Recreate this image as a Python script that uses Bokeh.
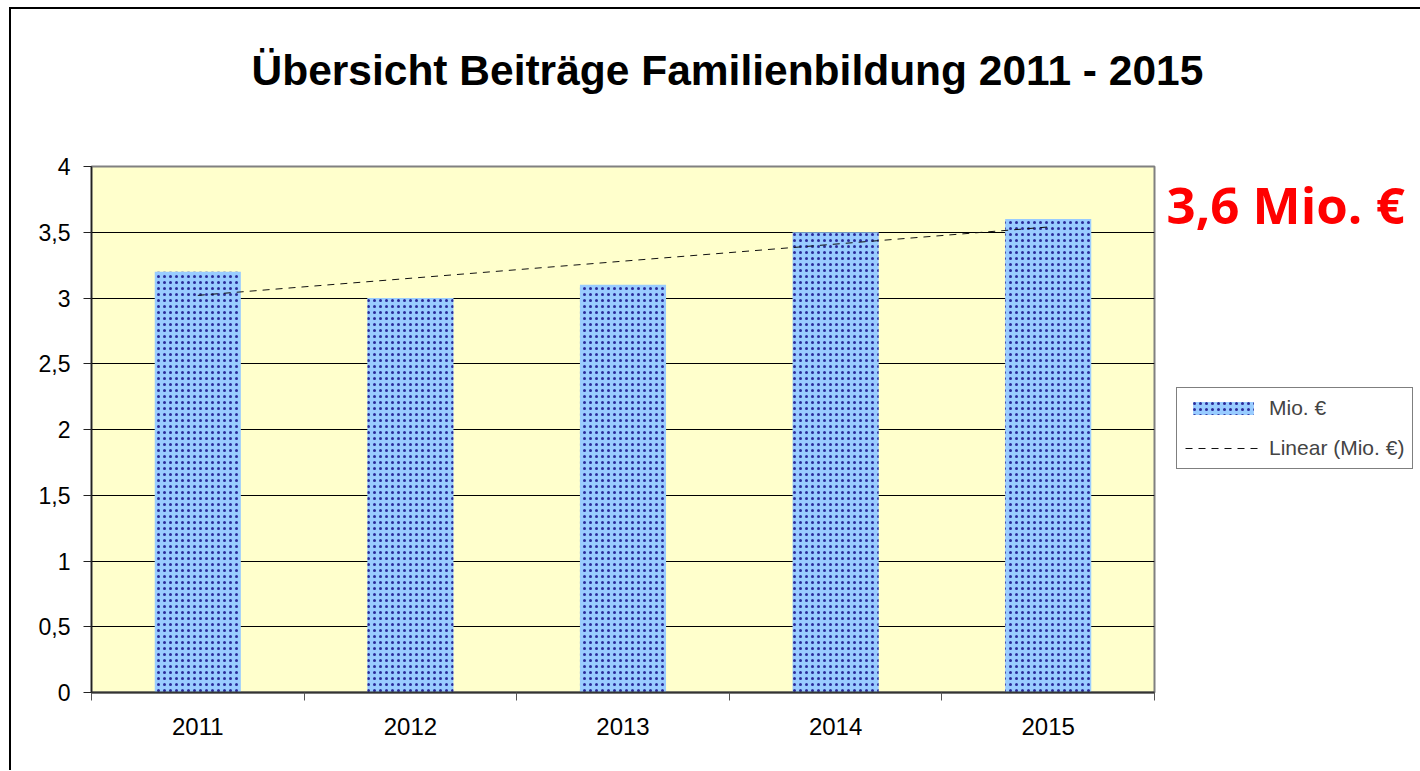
import numpy as np
from bokeh.plotting import figure
from bokeh.models import Range1d, FixedTicker, Label, Legend, LegendItem
from bokeh.embed import file_html
from bokeh.resources import INLINE

# ---- data ----
years = ["2011", "2012", "2013", "2014", "2015"]
values = [3.2, 3.0, 3.1, 3.5, 3.6]
series_name = "Mio. €"
trend_name = "Linear (Mio. €)"
y_ticks = [0, 0.5, 1, 1.5, 2, 2.5, 3, 3.5, 4]
y_tick_labels = ["0", "0,5", "1", "1,5", "2", "2,5", "3", "3,5", "4"]
title_text = "Übersicht Beiträge Familienbildung 2011 - 2015"

x_pos = list(range(1, len(years) + 1))
slope, intercept = np.polyfit(x_pos, values, 1)
trend_x = [x_pos[0], x_pos[-1]]
trend_y = [intercept + slope * x for x in trend_x]

# canvas origin lands at (11, 9) on the page (margin + 2px border)
CANVAS_W, CANVAS_H = 1408, 761
FRAME_W, FRAME_H = 1063, 526
MBL, MBT = 80, 157
MBR = CANVAS_W - MBL - FRAME_W
MBB = CANVAS_H - MBT - FRAME_H

p = figure(
    frame_width=FRAME_W, frame_height=FRAME_H,
    min_border_left=MBL, min_border_top=MBT,
    min_border_right=MBR, min_border_bottom=MBB,
    x_range=Range1d(0.5, len(years) + 0.5), y_range=Range1d(0, 4),
    output_backend="svg", toolbar_location=None,
    background_fill_color="#FFFFCC", border_fill_color="white",
)
p.styles = {"margin-left": "9px", "margin-top": "7px",
            "border-left": "2px solid black", "border-top": "2px solid black"}

p.title.text = title_text
p.title.text_color = "black"
p.title.text_font = "Liberation Sans"
p.title.text_font_style = "bold"
p.title.text_font_size = "42.5px"
p.title.align = "left"
p.title.offset = 160
p.title.standoff = 6

p.outline_line_color = "#808080"
p.outline_line_width = 2

bars = p.vbar(x=x_pos, top=values, bottom=0, width=0.405,
              fill_color="#99CCFF", line_color=None,
              hatch_pattern="dot", hatch_color="#2B2B9A",
              hatch_scale=6, hatch_weight=2.5)
trend = p.line(trend_x, trend_y, line_color="#111111", line_width=1,
               line_dash="7 6")

# axes
p.xgrid.grid_line_color = None
p.ygrid.grid_line_color = "black"
p.ygrid.grid_line_width = 1

p.yaxis.ticker = FixedTicker(ticks=y_ticks)
p.yaxis.major_label_overrides = {t: l for t, l in zip(y_ticks, y_tick_labels)}
p.yaxis.major_label_text_font = "Liberation Sans"
p.yaxis.major_label_text_font_size = "23px"
p.yaxis.major_label_text_color = "black"
p.yaxis.major_tick_out = 8
p.yaxis.major_tick_in = 0
p.yaxis.major_label_standoff = 13
p.yaxis.minor_tick_line_color = None
p.yaxis.axis_line_color = "#222222"
p.yaxis.axis_line_width = 1.5
p.yaxis.major_tick_line_color = "#222222"

bounds = [x - 0.5 for x in x_pos] + [x_pos[-1] + 0.5]
p.xaxis.ticker = FixedTicker(ticks=x_pos, minor_ticks=bounds)
p.xaxis.major_label_overrides = {x: y for x, y in zip(x_pos, years)}
p.xaxis.major_label_text_font = "Liberation Sans"
p.xaxis.major_label_text_font_size = "24px"
p.xaxis.major_label_text_color = "black"
p.xaxis.major_tick_line_color = None
p.xaxis.major_tick_out = 0
p.xaxis.major_tick_in = 0
p.xaxis.major_label_standoff = 17
p.xaxis.minor_tick_line_color = "#555555"
p.xaxis.minor_tick_out = 8
p.xaxis.minor_tick_in = 0
p.xaxis.axis_line_color = "#333333"
p.xaxis.axis_line_width = 2

legend = Legend(
    items=[LegendItem(label=series_name, renderers=[bars]),
           LegendItem(label=trend_name, renderers=[trend])],
    location=(22, 223),
    glyph_width=76, glyph_height=16, label_height=20, spacing=16,
    padding=8, margin=0, label_standoff=8,
    label_text_font="Liberation Sans", label_text_font_size="21px",
    border_line_color="black", border_line_width=1,
    background_fill_alpha=1, background_fill_color="white",
)
p.add_layout(legend, "right")

label_text = f"{values[-1]:.1f}".replace(".", ",") + " Mio. €"
p.add_layout(Label(x=1075, y=-37, x_units="screen", y_units="screen",
                   text=label_text, text_font="Open Sans",
                   text_font_style="bold", text_font_size="51px",
                   text_color="#FF0000", text_baseline="alphabetic"),
             "above")

open("out.html", "w").write(file_html(p, INLINE))
